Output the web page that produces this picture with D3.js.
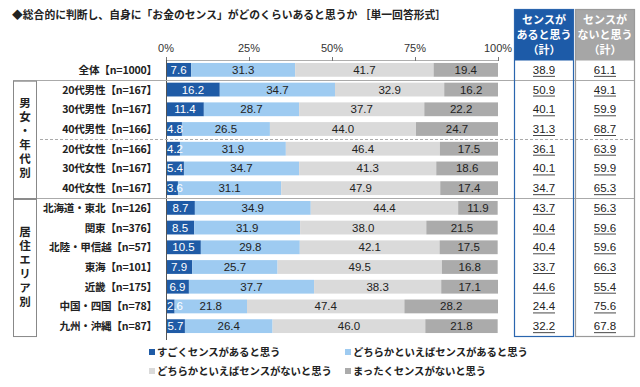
<!DOCTYPE html>
<html><head><meta charset="utf-8">
<script src="https://cdn.jsdelivr.net/npm/d3@7"></script>
<style>
body{margin:0;background:#fff;}
svg{display:block;}
text{font-family:"Noto Sans CJK JP","Liberation Sans",sans-serif;}
.num{font-family:"Liberation Sans",Arial,sans-serif;}
</style></head>
<body>
<script>
const title = "◆総合的に判断し、自身に「お金のセンス」がどのくらいあると思うか ［単一回答形式］";
const categories = ["全体【n=1000】","20代男性【n=167】","30代男性【n=167】","40代男性【n=166】","20代女性【n=166】","30代女性【n=167】","40代女性【n=167】","北海道・東北【n=126】","関東【n=376】","北陸・甲信越【n=57】","東海【n=101】","近畿【n=175】","中国・四国【n=78】","九州・沖縄【n=87】"];
const seriesNames = ["すごくセンスがあると思う","どちらかといえばセンスがあると思う","どちらかといえばセンスがないと思う","まったくセンスがないと思う"];
const s1 = [7.6,16.2,11.4,4.8,4.2,5.4,3.6,8.7,8.5,10.5,7.9,6.9,2.6,5.7];
const s2 = [31.3,34.7,28.7,26.5,31.9,34.7,31.1,34.9,31.9,29.8,25.7,37.7,21.8,26.4];
const s3 = [41.7,32.9,37.7,44.0,46.4,41.3,47.9,44.4,38.0,42.1,49.5,38.3,47.4,46.0];
const s4 = [19.4,16.2,22.2,24.7,17.5,18.6,17.4,11.9,21.5,17.5,16.8,17.1,28.2,21.8];
const sumYes = [38.9,50.9,40.1,31.3,36.1,40.1,34.7,43.7,40.4,40.4,33.7,44.6,24.4,32.2];
const sumNo = [61.1,49.1,59.9,68.7,63.9,59.9,65.3,56.3,59.6,59.6,66.3,55.4,75.6,67.8];
const tickValues = [0,25,50,75,100];
const groups = [{name:"男女・年代別", from:1, to:6},{name:"居住エリア別", from:7, to:13}];
const headYes = ["センスが","あると思う","（計）"];
const headNo = ["センスが","ないと思う","（計）"];

const W=640,H=387;
const colors=["#1f5ba6","#9ecbf1","#dadada","#ababab"];
const textColors=["#fff","#222","#222","#222"];
const svg=d3.select("body").append("svg").attr("width",W).attr("height",H);

const x=d3.scaleLinear().domain([0,100]).range([166,498]);
const y=d3.scaleBand().domain(categories).range([60,336]).paddingInner(0.3).paddingOuter(0.15);
const series=[s1,s2,s3,s4];
const stack=categories.map((c,i)=>{let acc=0;return series.map((s,k)=>{const a=acc;acc+=s[i];return {k,v:s[i],a,b:acc,c};});});

// title
svg.append("text").attr("x",12).attr("y",19).attr("font-size",10.8).attr("font-weight",700).attr("fill","#222").text(title);

// axis labels
svg.append("g").selectAll("text").data(tickValues).join("text").attr("class","num")
 .attr("x",d=>x(d)).attr("y",52).attr("text-anchor","middle").attr("font-size",11).attr("fill","#333").text(d=>d+"%");

// bars
const rows=svg.append("g").selectAll("g").data(stack).join("g");
rows.selectAll("rect").data(d=>d).join("rect")
 .attr("x",d=>x(d.a)).attr("width",d=>x(d.b)-x(d.a)).attr("y",d=>y(d.c)).attr("height",y.bandwidth()).attr("fill",d=>colors[d.k]);
rows.selectAll("text").data(d=>d).join("text").attr("class","num")
 .attr("x",d=>Math.max((x(d.a)+x(d.b))/2, x(d.a)+9)).attr("y",d=>y(d.c)+y.bandwidth()/2+4)
 .attr("text-anchor","middle").attr("font-size",11.5).attr("fill",d=>textColors[d.k]).text(d=>d.v.toFixed(1));

// axis line and ticks
const ax=svg.append("g");
ax.append("line").attr("x1",x(0)).attr("x2",x(100)).attr("y1",60.5).attr("y2",60.5).attr("stroke","#999").attr("stroke-width",0.8);
ax.selectAll("line.t").data(tickValues).join("line").attr("class","t").attr("x1",d=>x(d)+0.5).attr("x2",d=>x(d)+0.5).attr("y1",57).attr("y2",61).attr("stroke","#777");
ax.append("line").attr("x1",x(0)+0.5).attr("x2",x(0)+0.5).attr("y1",60).attr("y2",340).attr("stroke","#555").attr("stroke-width",1);

// category labels
svg.append("g").selectAll("text").data(categories).join("text")
 .attr("x",157).attr("y",d=>y(d)+y.bandwidth()/2+4).attr("text-anchor","end").attr("font-size",10.6).attr("font-weight",700).attr("fill","#222")
 .attr("letter-spacing",-0.2)
 .text(d=>d);

// separators
const step=y.step();
const sepY=i=>y(categories[i])-step*0.15;
[{i:1,dash:null},{i:4,dash:"3,2"},{i:7,dash:null}].forEach(s=>{
  svg.append("line").attr("x1",s.i===4?40:13).attr("x2",634).attr("y1",Math.round(sepY(s.i))+0.5).attr("y2",Math.round(sepY(s.i))+0.5)
   .attr("stroke","#aaa").attr("stroke-width",1).attr("stroke-dasharray",s.dash);
});

// group boxes
groups.forEach(g=>{
  const top=y(categories[g.from])-2, bot=y(categories[g.to])+y.bandwidth()+3;
  svg.append("rect").attr("x",13.5).attr("y",top+0.5).attr("width",23).attr("height",bot-top).attr("fill","#fff").attr("stroke","#888");
  svg.append("text").attr("x",25).attr("y",(top+bot)/2).attr("text-anchor","middle")
   .style("writing-mode","vertical-rl").attr("letter-spacing",2.5)
   .attr("font-size",11.5).attr("font-weight",700).attr("fill","#222").text(g.name);
});

// table
const tables=[{x0:514,x1:573,fill:"#1d5ba8",stroke:"#2a65ae",head:headYes,vals:sumYes},{x0:575,x1:634,fill:"#a6a6a6",stroke:"#9a9a9a",head:headNo,vals:sumNo}];
tables.forEach(t=>{
  svg.append("rect").attr("x",t.x0+0.5).attr("y",9.5).attr("width",t.x1-t.x0).attr("height",51).attr("fill",t.fill);
  svg.append("rect").attr("x",t.x0+0.5).attr("y",9.5).attr("width",t.x1-t.x0).attr("height",327).attr("fill","none").attr("stroke",t.stroke).attr("stroke-width",1.2);
  svg.append("g").selectAll("text").data(t.head).join("text").attr("x",(t.x0+t.x1)/2+0.5).attr("y",(d,i)=>24+i*15)
   .attr("text-anchor","middle").attr("font-size",11).attr("font-weight",700).attr("fill","#fff").text(d=>d);
  const cx=(t.x0+t.x1)/2+0.5;
  const g=svg.append("g");
  g.selectAll("text").data(t.vals).join("text").attr("class","num").attr("x",cx).attr("y",(d,i)=>y(categories[i])+y.bandwidth()/2+4)
   .attr("text-anchor","middle").attr("font-size",11.5).attr("fill","#222").text(d=>d.toFixed(1));
  g.selectAll("line").data(t.vals).join("line").attr("x1",cx-11).attr("x2",cx+11)
   .attr("y1",(d,i)=>y(categories[i])+y.bandwidth()/2+6.5).attr("y2",(d,i)=>y(categories[i])+y.bandwidth()/2+6.5).attr("stroke","#333").attr("stroke-width",0.9);
});
// legend
const legPos=[[149,352],[345,352],[149,371],[345,371]];
const leg=svg.append("g").selectAll("g").data(seriesNames).join("g").attr("transform",(d,i)=>`translate(${legPos[i][0]},${legPos[i][1]})`);
leg.append("rect").attr("x",0).attr("y",-3).attr("width",6).attr("height",6).attr("fill",(d,i)=>colors[i]);
leg.append("text").attr("x",8).attr("y",4).attr("font-size",10.4).attr("font-weight",700).attr("fill","#222").attr("letter-spacing",-0.1).text(d=>d);
</script>
</body></html>
